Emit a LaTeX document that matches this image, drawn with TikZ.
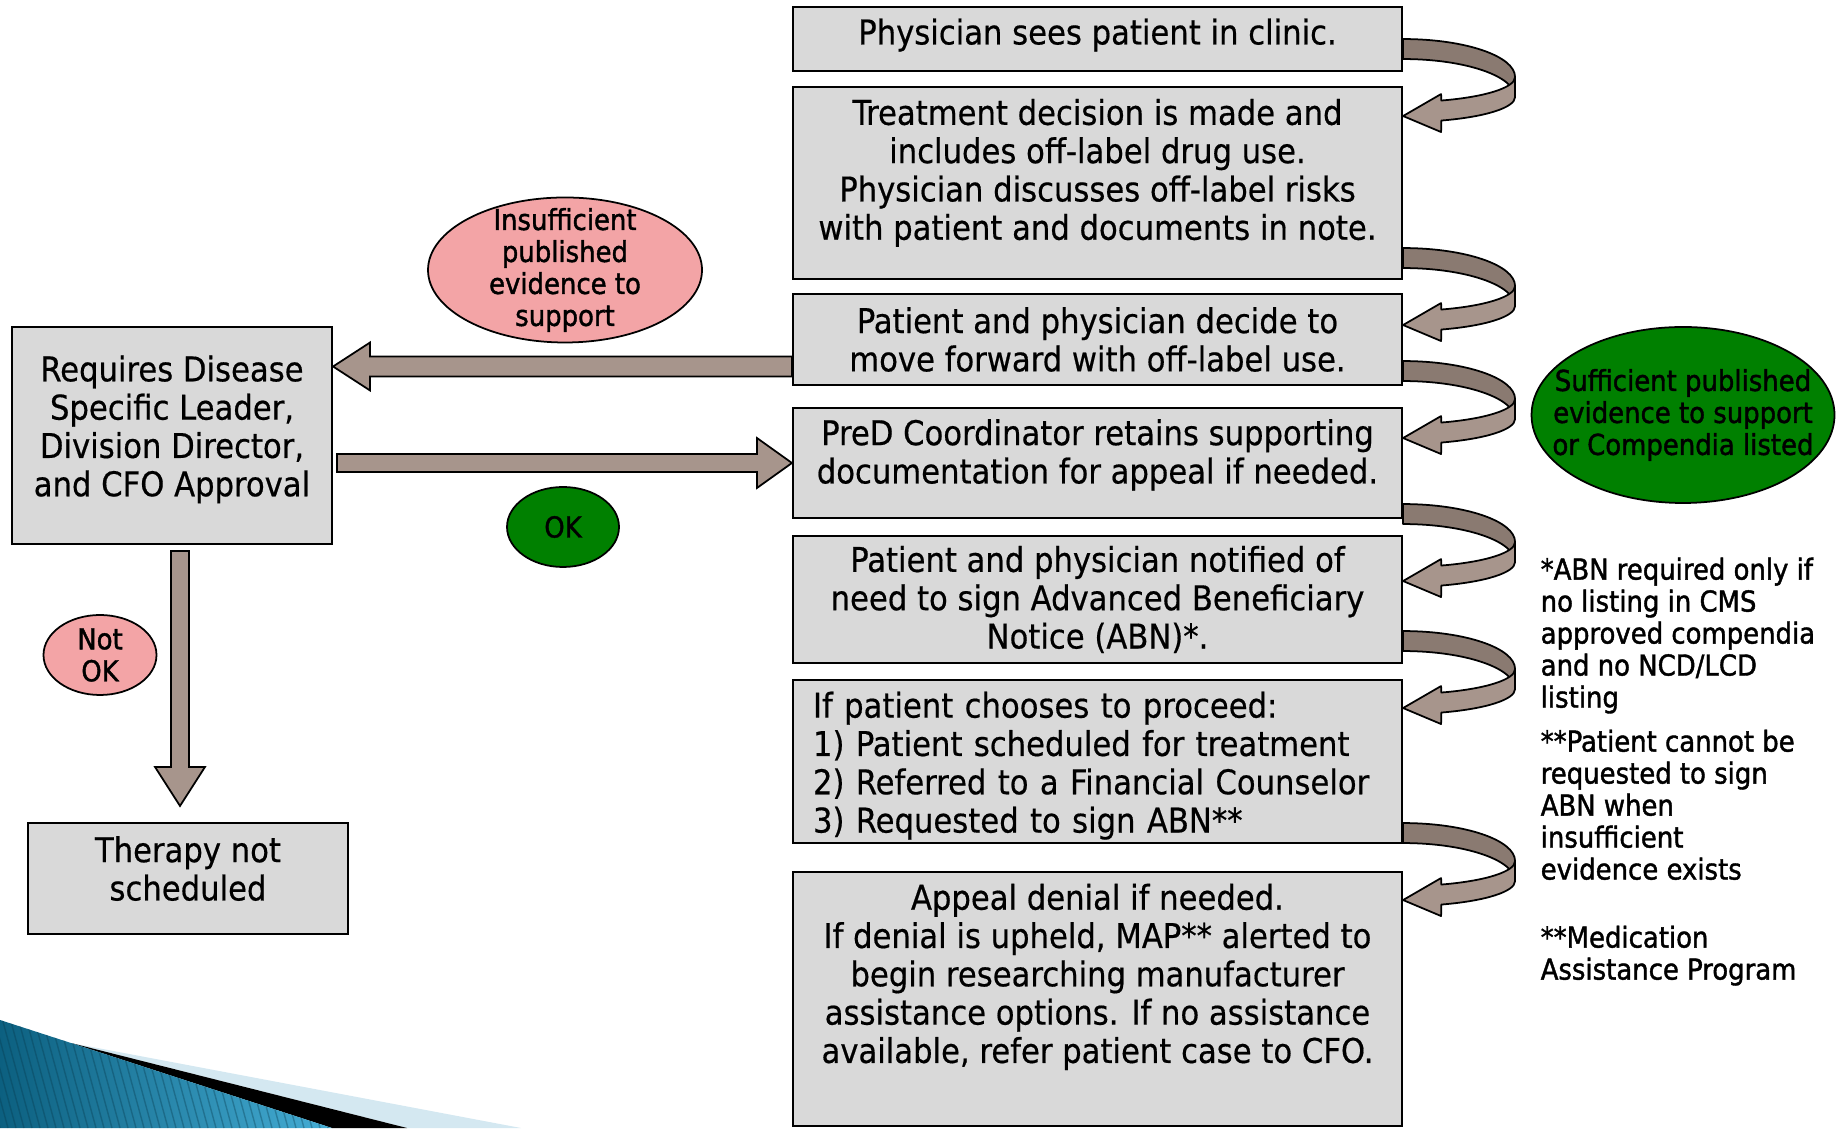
\documentclass[tikz,border=0pt]{standalone}
\usepackage{fontspec}
\setmainfont{DejaVu Sans Condensed}[FakeBold=0.5]
\newfontfamily\notefont{DejaVu Sans Condensed}[FakeBold=1.4]
\usetikzlibrary{shapes.geometric,calc}

\definecolor{boxgray}{RGB}{217,217,217}
\definecolor{arrowtan}{RGB}{167,149,140}
\definecolor{ribbondark}{RGB}{138,122,113}
\definecolor{notokpink}{RGB}{243,164,166}
\definecolor{okgreen}{RGB}{0,128,0}
\definecolor{swooshdark}{RGB}{12,96,128}
\definecolor{swooshlight}{RGB}{70,175,215}
\definecolor{swooshpale}{RGB}{212,232,241}

\newcommand\mainsize{\fontsize{9.7}{10.9}\selectfont}
\newcommand\smallsize{\notefont\fontsize{8.2}{9.1}\selectfont}

% curved arrow from the right side of one box down to the next one
\newcommand\uturn[2]{% #1 upper box, #2 start height above its bottom
  \begin{scope}[shift={($(#1.south east)+(0,#2)$)}]
    \def\rx{112}% ribbon x radius
    \filldraw[ribbon, fill=ribbondark] (0,0)
      arc[start angle=90, end angle=0, x radius=\rx, y radius=38] -- (\rx,-58)
      arc[start angle=0, end angle=90, x radius=\rx, y radius=38] -- cycle;
    \filldraw[ribbon, fill=arrowtan] (\rx,-38)
      arc[start angle=0, end angle=-70, x radius=\rx, y radius=25]
      -- (38,-55) -- (0,-77) -- (38,-93) -- (38.3,-81.5)
      arc[start angle=-70, end angle=0, x radius=\rx, y radius=25] -- cycle;
  \end{scope}}

\begin{document}
\begin{tikzpicture}[x=0.1mm, y=0.1mm,
    box/.style={draw, line width=0.6pt, fill=boxgray, align=center, inner sep=0pt,
      minimum width=60.9mm, font=\mainsize},
    sidebox/.style={box, minimum width=32mm},
    bubble/.style={ellipse, draw, line width=0.5pt, inner sep=-3mm, align=center,
      font=\smallsize},
    note/.style={align=left, inner sep=0pt, anchor=north west, font=\smallsize},
    fatbody/.style={draw, line width=0.5pt, fill=arrowtan, line join=miter},
    ribbon/.style={draw, line width=0.5pt, line join=round}]
  \useasboundingbox (0,0) rectangle (1847,1128);

  % corner swoosh
  \begin{scope}
    \fill[swooshpale] (71,85) -- (521,0) -- (407,0) -- cycle;
    \fill[black] (71,85) -- (407,0) -- (332,0) -- cycle;
    \clip (0,108) -- (71,85) -- (332,0) -- (0,0) -- cycle;
    \shade[left color=swooshdark, right color=swooshlight] (0,0) rectangle (340,110);
    \foreach \s in {-30,-22,...,340}
      \draw[swooshdark!60!black, opacity=.35, line width=.4pt] (\s,110) -- (\s+30,0);
  \end{scope}

  % main column
  \node[box, minimum height=6.4mm, text depth=1.5mm] (b1) at (1097.5,1089) {Physician sees patient in clinic.};
  \node[box, minimum height=19.2mm] (b2) at (1097.5,945)
    {Treatment decision is made and\\includes off-label drug use.\\Physician discusses off-label risks\\with patient and documents in note.\\[-1.1mm]~};
  \node[box, minimum height=9.1mm] (b3) at (1097.5,788.5)
    {Patient and physician decide to\\move forward with off-label use.};
  \node[box, minimum height=11mm] (b4) at (1097.5,665)
    {PreD Coordinator retains supporting\\documentation for appeal if needed.\\[-1.5mm]~};
  \node[box, minimum height=12.7mm] (b5) at (1097.5,528.5)
    {Patient and physician notified of\\need to sign Advanced Beneficiary\\Notice (ABN)*.};
  \node[box, minimum height=16.3mm, align=left, text width=56.9mm, inner xsep=2mm] (b6) at (1097.5,366.5)
    {~\\[-0.4mm]If patient chooses to proceed:\\1) Patient scheduled for treatment\\2) Referred to a Financial Counselor\\3) Requested to sign ABN**};
  \node[box, minimum height=25.4mm] (b7) at (1097.5,129)
    {Appeal denial if needed.\\If denial is upheld, MAP** alerted to\\begin researching manufacturer\\assistance options. If no assistance\\available, refer patient case to CFO.\\[1.3mm]~};

  % left side
  \node[sidebox, minimum height=21.7mm] (req) at (172,692.5)
    {Requires Disease\\Specific Leader,\\Division Director,\\and CFO Approval\\[-1.9mm]~};
  \node[sidebox, minimum height=11.1mm] (ther) at (188,249.5) {Therapy not\\scheduled\\[-1.8mm]~};

  % step arrows
  \uturn{b1}{33}
  \uturn{b2}{32}
  \uturn{b3}{25}
  \uturn{b4}{15}
  \uturn{b5}{33}
  \uturn{b6}{21}

  % back to approval
  \coordinate (la) at ($(b3.west)+(0,-27)$);
  \draw[fatbody] ($(la)+(0,10)$) -- ($(req.east |- la)+(37,10)$) -- ++(0,14)
    -- (req.east |- la) -- ++(37,-24) -- ++(0,14) -- ($(la)+(0,-10)$) -- cycle;
  % approved
  \draw[fatbody] ($(req.east |- b4.west)+(4,9)$) -- ($(b4.west)+(-35,9)$) -- ++(0,16)
    -- (b4.west) -- ++(-35,-25) -- ++(0,16) -- ($(req.east |- b4.west)+(4,-9)$) -- cycle;
  % not approved
  \coordinate (da) at ($(req.south)+(8,-6)$);
  \coordinate (dt) at ($(ther.north)+(-8,16)$);
  \draw[fatbody] ($(da)+(-9,0)$) -- ($(dt)+(-9,39)$) -- ++(-16,0)
    -- (dt) -- ++(25,39) -- ++(-16,0) -- ($(da)+(9,0)$) -- cycle;

  % bubbles
  \node[bubble, fill=notokpink, minimum width=27.4mm, minimum height=14.5mm] (ins) at (565,858)
    {Insufficient\\published\\evidence to\\support};
  \node[bubble, fill=okgreen, minimum width=11.2mm, minimum height=8mm] (ok) at (563,601) {OK};
  \node[bubble, fill=notokpink, minimum width=11.3mm, minimum height=8mm] (notok) at (100,473) {Not\\OK};
  \node[bubble, fill=okgreen, minimum width=30.3mm, minimum height=17.6mm] (suf) at (1683,713)
    {Sufficient published\\evidence to support\\or Compendia listed};

  % notes
  \node[note] (note1) at (1540,571)
    {*ABN required only if\\no listing in CMS\\approved compendia\\and no NCD/LCD\\listing};
  \node[note] (note2) at (1540,399)
    {**Patient cannot be\\requested to sign\\ABN when\\insufficient\\evidence exists};
  \node[note] (note3) at (1540,203) {**Medication\\Assistance Program};
\end{tikzpicture}
\end{document}
